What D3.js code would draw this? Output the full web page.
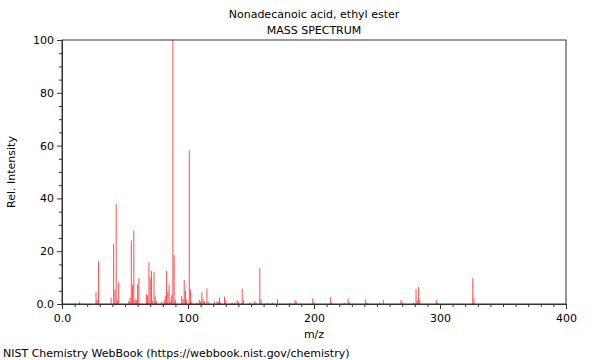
<!DOCTYPE html>
<html>
<head>
<meta charset="utf-8">
<script src="https://cdn.jsdelivr.net/npm/d3@7"></script>
<style>
html,body{margin:0;padding:0;background:#fff;}
svg{display:block;font-family:"DejaVu Sans",sans-serif;}
</style>
</head>
<body>
<svg id="chart" width="600" height="360"></svg>
<script>
const title = "Nonadecanoic acid, ethyl ester";
const subtitle = "MASS SPECTRUM";
const xLabel = "m/z";
const yLabel = "Rel. Intensity";
const footer = "NIST Chemistry WebBook (https://webbook.nist.gov/chemistry)";

const mz = [14, 27, 28, 29, 39, 41, 42, 43, 44, 45, 53, 54, 55, 56, 57, 58, 59, 60, 61,
  67, 68, 69, 70, 71, 72, 73, 74, 75, 79, 81, 82, 83, 84, 85, 86, 87, 88, 89, 90,
  95, 96, 97, 98, 99, 101, 102, 103, 107, 109, 110, 111, 112, 113, 115, 116,
  121, 123, 124, 125, 126, 129, 130, 135, 137, 139, 140, 143, 144, 149, 153, 154, 157, 158, 163,
  167, 171, 181, 185, 186, 199, 200, 213, 214, 224, 227, 228, 241, 242,
  252, 255, 269, 270, 279, 281, 282, 283, 284, 297, 298, 326, 327];
const intensity = [0.8, 4.5, 1.5, 16.3, 2.4, 22.7, 5.3, 37.9, 1.5, 8.2, 1.1, 2.4, 24.0, 7.2, 27.8, 1.8, 1.5, 7.4, 9.8,
  3.8, 3.2, 15.8, 10.1, 12.5, 1.2, 12.2, 2.9, 1.0, 0.8, 1.5, 3.2, 12.5, 4.7, 7.4, 0.9, 3.4, 100, 18.6, 1.5,
  3.0, 1.9, 9.1, 4.9, 1.8, 58.3, 5.6, 1.0, 0.6, 1.6, 1.0, 4.5, 1.8, 1.1, 5.9, 0.8,
  1.0, 1.0, 0.8, 2.5, 0.6, 2.8, 1.4, 0.6, 0.5, 1.5, 0.8, 5.8, 1.5, 0.6, 1.0, 0.5, 13.6, 1.8, 0.4,
  0.6, 1.8, 0.4, 1.5, 0.8, 2.1, 0.5, 2.5, 0.5, 0.4, 2.1, 0.8, 1.8, 0.5,
  0.6, 1.5, 1.5, 0.8, 0.5, 5.6, 1.3, 6.4, 1.5, 1.5, 0.6, 9.8, 2.2];

const xMajor = [0, 100, 200, 300, 400];
const xMajorLabels = ["0.0", "100", "200", "300", "400"];
const yMajor = [0, 20, 40, 60, 80, 100];
const yMajorLabels = ["0.0", "20", "40", "60", "80", "100"];

const peaks = mz.map((m, i) => ({m, v: intensity[i]}));

const svg = d3.select("#chart");
const margin = {left: 62, right: 34, top: 40, bottom: 56};
const W = 600, H = 360;
const x = d3.scaleLinear().domain([0, 400]).range([margin.left, W - margin.right]);
const y = d3.scaleLinear().domain([0, 100]).range([H - margin.bottom, margin.top]);

// peaks
svg.append("g").selectAll("line").data(peaks).enter().append("line")
  .attr("x1", d => x(d.m)).attr("x2", d => x(d.m))
  .attr("y1", y(0)).attr("y2", d => y(d.v))
  .attr("stroke", "#ff0000").attr("stroke-opacity", 0.7).attr("stroke-width", 1);

// frame
svg.append("rect")
  .attr("x", x(0)).attr("y", y(100))
  .attr("width", x(400) - x(0)).attr("height", y(0) - y(100))
  .attr("fill", "none").attr("stroke", "#333").attr("stroke-width", 1);

// x axis minor
const xMinor = d3.range(0, 401, 10).filter(v => v % 100 !== 0);
svg.append("g").attr("transform", `translate(0,${y(0)})`)
  .call(d3.axisBottom(x).tickValues(xMinor).tickSize(3).tickFormat(""))
  .call(g => g.select(".domain").remove())
  .selectAll("line").attr("stroke", "#333");
const xa = svg.append("g").attr("transform", `translate(0,${y(0)})`)
  .call(d3.axisBottom(x).tickValues(xMajor).tickSize(5).tickPadding(5)
    .tickFormat((d, i) => xMajorLabels[i]));
xa.select(".domain").attr("stroke", "#333");
xa.selectAll("line").attr("stroke", "#333");
xa.selectAll("text").attr("font-size", 11).attr("fill", "#000").attr("font-family", "DejaVu Sans");

// y axis minor
const yMinor = d3.range(0, 101, 5).filter(v => v % 20 !== 0);
svg.append("g").attr("transform", `translate(${x(0)},0)`)
  .call(d3.axisLeft(y).tickValues(yMinor).tickSize(3).tickFormat(""))
  .call(g => g.select(".domain").remove())
  .selectAll("line").attr("stroke", "#333");
const ya = svg.append("g").attr("transform", `translate(${x(0)},0)`)
  .call(d3.axisLeft(y).tickValues(yMajor).tickSize(5).tickPadding(3)
    .tickFormat((d, i) => yMajorLabels[i]));
ya.select(".domain").attr("stroke", "#333");
ya.selectAll("line").attr("stroke", "#333");
ya.selectAll("text").attr("font-size", 11).attr("fill", "#000").attr("font-family", "DejaVu Sans");

const cx = (x(0) + x(400)) / 2;
svg.append("text").attr("x", cx).attr("y", 18).attr("text-anchor", "middle")
  .attr("font-size", 11).text(title);
svg.append("text").attr("x", cx).attr("y", 34).attr("text-anchor", "middle")
  .attr("font-size", 11).text(subtitle);
svg.append("text").attr("x", cx).attr("y", 338).attr("text-anchor", "middle")
  .attr("font-size", 11).text(xLabel);
svg.append("text").attr("transform", `translate(15,${(y(0) + y(100)) / 2}) rotate(-90)`)
  .attr("text-anchor", "middle").attr("font-size", 11).text(yLabel);
svg.append("text").attr("x", 3).attr("y", 357).attr("font-size", 11).text(footer);
</script>
</body>
</html>
